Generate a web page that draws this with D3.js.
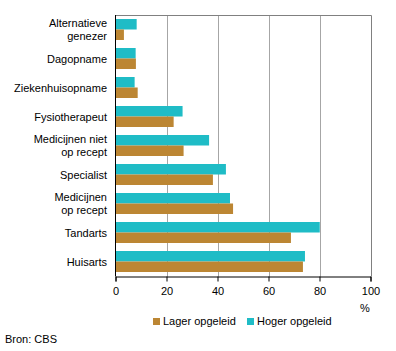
<!DOCTYPE html>
<html><head><meta charset="utf-8">
<script src="https://cdn.jsdelivr.net/npm/d3@7"></script>
<style>body{margin:0;background:#fff}svg text{font-family:"Liberation Sans",Arial,sans-serif;font-size:11px;fill:#000}</style>
</head><body><svg id="c" width="396" height="351"></svg>
<script>
const categories = [["Alternatieve","genezer"],["Dagopname"],["Ziekenhuisopname"],["Fysiotherapeut"],["Medicijnen niet","op recept"],["Specialist"],["Medicijnen","op recept"],["Tandarts"],["Huisarts"]];
const lager = [3.3, 8.0, 8.7, 22.8, 26.7, 38.2, 46.1, 68.8, 73.5];
const hoger = [8.3, 7.9, 7.5, 26.3, 36.7, 43.3, 44.9, 80.1, 74.3];
const ticks = [0, 20, 40, 60, 80, 100];
const seriesNames = ["Lager opgeleid", "Hoger opgeleid"];
const colors = ["#bc8633", "#1fbcc6"];

(function(){
const svg = d3.select("#c");
const pL = 115.5, pR = 370.5, pT = 15.5, pB = 276.5;
const x = d3.scaleLinear().domain([0, 100]).range([pL, pR]);
const y = d3.scaleBand().domain(d3.range(categories.length)).range([15, 276]).paddingInner(8/29).paddingOuter(4/29);

svg.append("g").selectAll("line").data(ticks.filter(t => t > 0 && t < 100)).join("line")
  .attr("x1", d => Math.round(x(d)) + 0.5).attr("x2", d => Math.round(x(d)) + 0.5)
  .attr("y1", pT).attr("y2", pB).attr("stroke", "#a6a6a6").attr("stroke-width", 1);
svg.append("path").attr("d", `M${pL},${pT}H${Math.round(pR)+0.5}V${pB}`).attr("fill", "none").attr("stroke", "#808080");

const bh = y.bandwidth() / 2;
categories.forEach((c, i) => {
  svg.append("rect").attr("x", x(0)).attr("y", y(i)).attr("width", x(hoger[i]) - x(0)).attr("height", bh).attr("fill", colors[1]);
  svg.append("rect").attr("x", x(0)).attr("y", y(i) + bh).attr("width", x(lager[i]) - x(0)).attr("height", bh).attr("fill", colors[0]);
  const cy = y(i) + y.bandwidth() / 2;
  const t = svg.append("text").attr("text-anchor", "end").attr("x", 107);
  if (c.length === 1) t.append("tspan").attr("x", 107).attr("y", cy + 4).text(c[0]);
  else {
    t.append("tspan").attr("x", 107).attr("y", cy - 2.5).text(c[0]);
    t.append("tspan").attr("x", 107).attr("y", cy + 10).text(c[1]);
  }
});

const xAxis = d3.axisBottom(x).tickValues(ticks).tickSize(5).tickPadding(6).tickFormat(d3.format("d"));
const gx = svg.append("g").attr("transform", `translate(0,${pB})`).call(xAxis);
gx.select(".domain").attr("stroke", "#000");
gx.selectAll(".tick line").attr("stroke", "#000");
gx.selectAll(".tick text").attr("font-size", 11).attr("font-family", "Liberation Sans, Arial, sans-serif").attr("fill", "#000");
svg.append("line").attr("x1", pL).attr("x2", pL).attr("y1", pT - 0.5).attr("y2", pB).attr("stroke", "#000");

svg.append("text").attr("x", 365).attr("y", 312).attr("text-anchor", "middle").text("%");

const lx = [153, 247];
seriesNames.forEach((n, i) => {
  svg.append("rect").attr("x", lx[i]).attr("y", 318).attr("width", 7).attr("height", 7).attr("fill", colors[i]);
  svg.append("text").attr("x", lx[i] + 10).attr("y", 325).text(n);
});

svg.append("text").attr("x", 5).attr("y", 343).text("Bron: CBS");
})();
</script></body></html>
